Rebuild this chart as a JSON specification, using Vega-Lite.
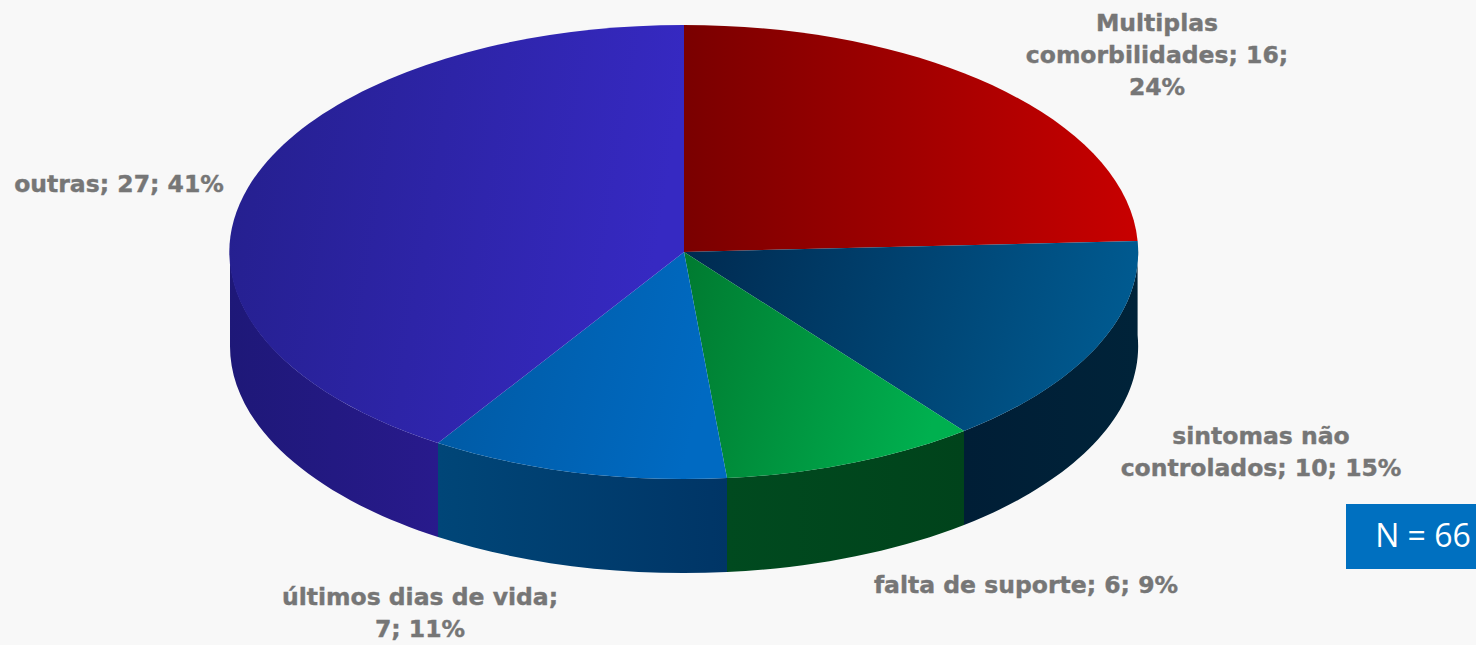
{
"$schema":"https://vega.github.io/schema/vega-lite/v6.json",
"width":1476,"height":645,"padding":0,"autosize":{"type":"none"},
"background":"#f8f8f8",
"config":{"view":{"stroke":null},"text":{"font":"DejaVu Sans"}},
"datasets":{"fatias":[
{"categoria":"Multiplas comorbilidades","n":16,"pct":24,"rotulo":"Multiplas\ncomorbilidades; 16;\n24%"},
{"categoria":"sintomas não controlados","n":10,"pct":15,"rotulo":"sintomas não\ncontrolados; 10; 15%"},
{"categoria":"falta de suporte","n":6,"pct":9,"rotulo":"falta de suporte; 6; 9%"},
{"categoria":"últimos dias de vida","n":7,"pct":11,"rotulo":"últimos dias de vida;\n7; 11%"},
{"categoria":"outras","n":27,"pct":41,"rotulo":"outras; 27; 41%"}
],"total":[{"rotulo":"N = 66","N":66}]},
"data":{"name":"fatias"},
"encoding":{
"x":{"datum":0,"type":"quantitative","scale":{"domain":[-684,792],"nice":false,"zero":false},"axis":null},
"y":{"datum":0,"type":"quantitative","scale":{"domain":[393,-252],"nice":false,"zero":false},"axis":null}
},
"layer":[
{"transform":[{"filter":"datum.categoria==='sintomas não controlados'"}],
 "mark":{"type":"point","filled":true,"opacity":1,"size":4,"strokeWidth":0,"shape":"M453.6,-11A454,227,0,0,1,280,179L280,273A454,227,0,0,0,453.6,83Z","fill":{"gradient":"linear","x1":0,"x2":1,"y1":0,"y2":0,"stops":[{"offset":0,"color":"#001e36"},{"offset":1,"color":"#002339"}]}}},
{"transform":[{"filter":"datum.categoria==='falta de suporte'"}],
 "mark":{"type":"point","filled":true,"opacity":1,"size":4,"strokeWidth":0,"shape":"M280,179A454,227,0,0,1,43,226L43,320A454,227,0,0,0,280,273Z","fill":{"gradient":"linear","x1":0,"x2":1,"y1":0,"y2":0,"stops":[{"offset":0,"color":"#004a1f"},{"offset":1,"color":"#00431b"}]}}},
{"transform":[{"filter":"datum.categoria==='últimos dias de vida'"}],
 "mark":{"type":"point","filled":true,"opacity":1,"size":4,"strokeWidth":0,"shape":"M43,226A454,227,0,0,1,-246,191L-246,285A454,227,0,0,0,43,320Z","fill":{"gradient":"linear","x1":0,"x2":1,"y1":0,"y2":0,"stops":[{"offset":0,"color":"#004678"},{"offset":1,"color":"#003566"}]}}},
{"transform":[{"filter":"datum.categoria==='outras'"}],
 "mark":{"type":"point","filled":true,"opacity":1,"size":4,"strokeWidth":0,"shape":"M-246,191A454,227,0,0,1,-454,0L-454,94A454,227,0,0,0,-246,285Z","fill":{"gradient":"linear","x1":0,"x2":1,"y1":0,"y2":0,"stops":[{"offset":0,"color":"#1e1878"},{"offset":1,"color":"#281a8c"}]}}},
{"transform":[{"filter":"datum.categoria==='Multiplas comorbilidades'"}],
 "mark":{"type":"point","filled":true,"opacity":1,"size":4,"strokeWidth":0,"shape":"M0,0L0,-227A454,227,0,0,1,453.6,-11Z","fill":{"gradient":"linear","x1":0,"x2":1,"y1":0,"y2":0,"stops":[{"offset":0,"color":"#7a0000"},{"offset":1,"color":"#c80000"}]}}},
{"transform":[{"filter":"datum.categoria==='sintomas não controlados'"}],
 "mark":{"type":"point","filled":true,"opacity":1,"size":4,"strokeWidth":0,"shape":"M0,0L453.6,-11A454,227,0,0,1,280,179Z","fill":{"gradient":"linear","x1":0,"x2":1,"y1":0,"y2":0.1,"stops":[{"offset":0,"color":"#002a50"},{"offset":1,"color":"#005a90"}]}}},
{"transform":[{"filter":"datum.categoria==='falta de suporte'"}],
 "mark":{"type":"point","filled":true,"opacity":1,"size":4,"strokeWidth":0,"shape":"M0,0L280,179A454,227,0,0,1,43,226Z","fill":{"gradient":"linear","x1":0,"x2":1,"y1":0,"y2":0.2,"stops":[{"offset":0,"color":"#007a30"},{"offset":1,"color":"#00b04f"}]}}},
{"transform":[{"filter":"datum.categoria==='últimos dias de vida'"}],
 "mark":{"type":"point","filled":true,"opacity":1,"size":4,"strokeWidth":0,"shape":"M0,0L43,226A454,227,0,0,1,-246,191Z","fill":{"gradient":"linear","x1":0,"x2":1,"y1":0,"y2":0.2,"stops":[{"offset":0,"color":"#0058a0"},{"offset":1,"color":"#006ac2"}]}}},
{"transform":[{"filter":"datum.categoria==='outras'"}],
 "mark":{"type":"point","filled":true,"opacity":1,"size":4,"strokeWidth":0,"shape":"M0,0L-246,191A454,227,0,0,1,0,-227Z","fill":{"gradient":"linear","x1":0,"x2":1,"y1":0,"y2":0.15,"stops":[{"offset":0,"color":"#241f8c"},{"offset":1,"color":"#3629c2"}]}}},
{"transform":[{"filter":"datum.categoria==='Multiplas comorbilidades'"}],
 "mark":{"type":"text","fontWeight":"bold","fontSize":23.5,"color":"#767676","stroke":"#767676","strokeWidth":0.4,"lineBreak":"\n","lineHeight":32,"align":"center","baseline":"middle"},
 "encoding":{"x":{"datum":473,"type":"quantitative"},"y":{"datum":-228,"type":"quantitative"},"text":{"field":"rotulo"}}},
{"transform":[{"filter":"datum.categoria==='sintomas não controlados'"}],
 "mark":{"type":"text","fontWeight":"bold","fontSize":23.5,"color":"#767676","stroke":"#767676","strokeWidth":0.4,"lineBreak":"\n","lineHeight":32,"align":"center","baseline":"middle"},
 "encoding":{"x":{"datum":577,"type":"quantitative"},"y":{"datum":185,"type":"quantitative"},"text":{"field":"rotulo"}}},
{"transform":[{"filter":"datum.categoria==='falta de suporte'"}],
 "mark":{"type":"text","fontWeight":"bold","fontSize":23.5,"color":"#767676","stroke":"#767676","strokeWidth":0.4,"lineBreak":"\n","lineHeight":32,"align":"center","baseline":"middle"},
 "encoding":{"x":{"datum":342,"type":"quantitative"},"y":{"datum":334,"type":"quantitative"},"text":{"field":"rotulo"}}},
{"transform":[{"filter":"datum.categoria==='últimos dias de vida'"}],
 "mark":{"type":"text","fontWeight":"bold","fontSize":23.5,"color":"#767676","stroke":"#767676","strokeWidth":0.4,"lineBreak":"\n","lineHeight":32,"align":"center","baseline":"middle"},
 "encoding":{"x":{"datum":-264,"type":"quantitative"},"y":{"datum":346,"type":"quantitative"},"text":{"field":"rotulo"}}},
{"transform":[{"filter":"datum.categoria==='outras'"}],
 "mark":{"type":"text","fontWeight":"bold","fontSize":23.5,"color":"#767676","stroke":"#767676","strokeWidth":0.4,"lineBreak":"\n","lineHeight":32,"align":"center","baseline":"middle"},
 "encoding":{"x":{"datum":-565,"type":"quantitative"},"y":{"datum":-67,"type":"quantitative"},"text":{"field":"rotulo"}}},
{"data":{"name":"total"},
 "mark":{"type":"rect","color":"#0070c0"},
 "encoding":{"x":{"datum":662,"type":"quantitative"},"x2":{"datum":792},"y":{"datum":252,"type":"quantitative"},"y2":{"datum":317}}},
{"data":{"name":"total"},
 "mark":{"type":"text","font":"Open Sans","fontSize":32,"color":"#ffffff","align":"center","baseline":"middle"},
 "encoding":{"x":{"datum":739,"type":"quantitative"},"y":{"datum":285,"type":"quantitative"},"text":{"field":"rotulo"}}}
]
}
